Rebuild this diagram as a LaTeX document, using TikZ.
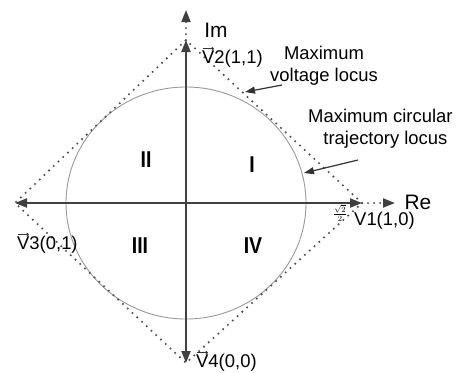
\documentclass[tikz,border=0pt]{standalone}
\usepackage{fontspec}
\setmainfont{Liberation Sans}
\usetikzlibrary{arrows.meta}
\newcommand{\qlab}[1]{\scalebox{0.85}[1]{#1}}
\begin{document}
\begin{tikzpicture}[x=1bp,y=-1bp,
  vecarrow/.style={draw=black!75, line width=2.2bp, -{Triangle[length=12bp,width=9bp]}},
  axisext/.style={draw=black!75, line width=2bp, dash pattern=on 0bp off 6bp, line cap=round, -{Triangle[length=12bp,width=9bp]}},
  locus/.style={draw=black!70, line width=2.3bp, line cap=round, dash pattern=on 0bp off 6.5bp},
  circ/.style={draw=black!40, line width=0.9bp},
  lbl/.style={font=\fontsize{18.5}{18.5}\selectfont, inner sep=0pt},
  note/.style={font=\fontsize{18.5}{22}\selectfont, align=center, inner sep=0pt},
  quad/.style={font=\bfseries\fontsize{23}{23}\selectfont, inner sep=0pt},
  vbar/.style={draw=black!80, line width=0.8bp, -{To[length=2.5bp,width=4bp]}},
  ptr/.style={draw=black!80, line width=1.2bp, -{Triangle[length=10bp,width=7bp]}}]
\useasboundingbox (0,0) rectangle (461,372);
% key points
\coordinate (O) at (186,203);
\coordinate (V1) at (362,203);
\coordinate (V2) at (186,40);
\coordinate (V3) at (15,203);
\coordinate (V4) at (186,363);
\coordinate (ReT) at (395,203);
\coordinate (ImT) at (186,10);
% circle
\draw[circ] (O) ellipse [x radius=120, y radius=116];
% diamond (maximum voltage locus)
\draw[locus] (V1) -- (V2) -- (V3) -- (V4) -- cycle;
% axis extensions
\draw[axisext] (V1) -- (ReT);
\draw[axisext] (V2) -- (ImT);
% vectors
\draw[vecarrow] (O) -- (V1);
\draw[vecarrow] (O) -- (V2);
\draw[vecarrow] (O) -- (V3);
\draw[vecarrow] (O) -- (V4);
% axis labels
\node[font=\fontsize{21}{21}\selectfont, inner sep=0pt] (Re) at (418,202) {Re};
\node[font=\fontsize{21}{21}\selectfont, inner sep=0pt] (Im) at (216,30) {Im};
% vector labels
\node[lbl, anchor=west] (L2) at (202,59) {V2(1,1)};
\node[lbl, anchor=west] (L1) at (354,221) {V1(1,0)};
\node[font=\fontsize{12}{12}\selectfont, inner sep=0pt] (frac) at (340,213) {$\frac{\sqrt{2}}{2}$};
\node[lbl, anchor=west] (L3) at (17,245) {V3(0,1)};
\node[lbl, anchor=west] (L4) at (196,363) {V4(0,0)};
\draw[vbar] ([shift={(1,-1.5)}]L2.north west) -- ++(11,0);
\draw[vbar] ([shift={(1,-1.5)}]L3.north west) -- ++(11,0);
\draw[vbar] ([shift={(1,-1.5)}]L4.north west) -- ++(11,0);
% quadrant labels
\node[quad] (QI) at (252,165) {\qlab{I}};
\node[quad] (QII) at (146,160) {\qlab{II}};
\node[quad] (QIII) at (140,246) {\qlab{III}};
\node[quad] (QIV) at (253,246) {\qlab{IV}};
% notes
\node[note] (N1) at (324,66) {Maximum\\voltage locus};
\node[note, anchor=west] (N2) at (308,129) {Maximum circular\\\hspace*{10bp}trajectory locus};
\coordinate (P1s) at (282,85);
\coordinate (P1e) at (245,92);
\coordinate (P2s) at (358,160);
\coordinate (P2e) at (304,173);
\draw[ptr] (P1s) -- (P1e);
\draw[ptr] (P2s) -- (P2e);
\end{tikzpicture}
\end{document}
